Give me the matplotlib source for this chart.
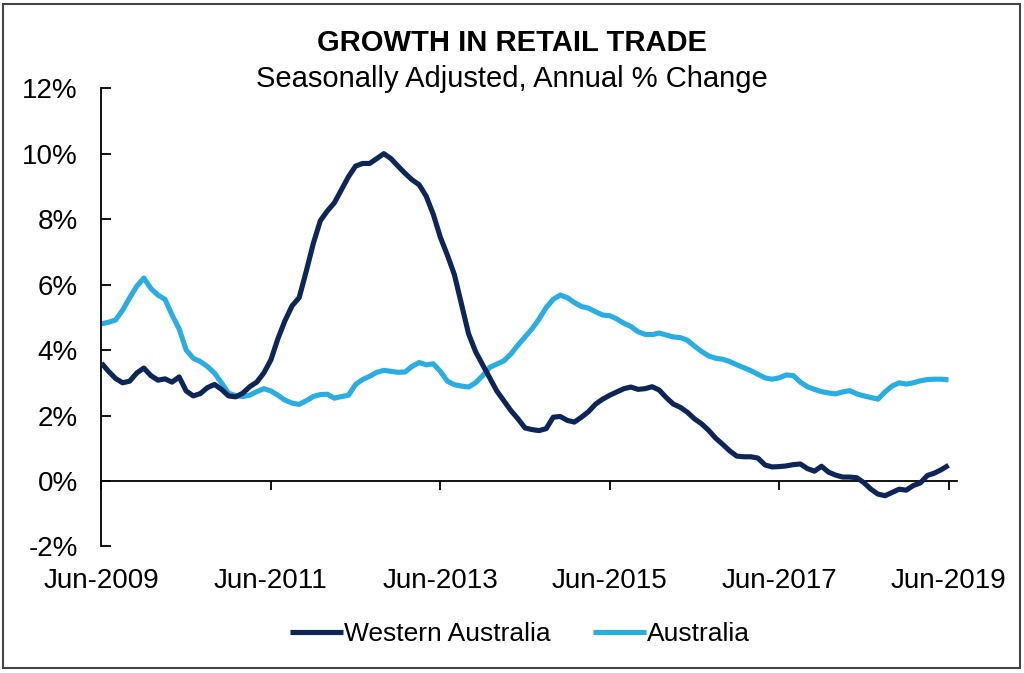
import matplotlib
matplotlib.use("Agg")
import matplotlib.pyplot as plt
from matplotlib.patches import Rectangle
from matplotlib.ticker import FuncFormatter

plt.rcParams["font.family"] = ["Liberation Sans", "DejaVu Sans"]

# ================== DATA ==================
# monthly, Jun-2009 .. Jun-2019 (121 points), annual % change
WA = [
    3.60, 3.35, 3.13, 3.00, 3.05, 3.30, 3.45, 3.22, 3.08, 3.12,
    3.02, 3.18, 2.75, 2.60, 2.67, 2.85, 2.95, 2.80, 2.60, 2.57,
    2.68, 2.88, 3.02, 3.30, 3.70, 4.35, 4.90, 5.35, 5.60, 6.40,
    7.25, 7.95, 8.25, 8.50, 8.90, 9.30, 9.62, 9.70, 9.70, 9.85,
    10.00, 9.85, 9.62, 9.40, 9.20, 9.05, 8.70, 8.15, 7.45, 6.90,
    6.30, 5.40, 4.50, 3.95, 3.55, 3.15, 2.75, 2.45, 2.15, 1.90,
    1.62, 1.57, 1.54, 1.60, 1.95, 1.97, 1.85, 1.80, 1.95, 2.12,
    2.35, 2.50, 2.62, 2.72, 2.82, 2.87, 2.80, 2.82, 2.88, 2.78,
    2.55, 2.35, 2.25, 2.10, 1.90, 1.75, 1.55, 1.31, 1.12, 0.92,
    0.76, 0.74, 0.74, 0.70, 0.49, 0.43, 0.44, 0.46, 0.50, 0.52,
    0.38, 0.30, 0.45, 0.27, 0.18, 0.12, 0.12, 0.10, -0.05, -0.25,
    -0.40, -0.45, -0.35, -0.25, -0.28, -0.14, -0.06, 0.17, 0.24, 0.35,
    0.48,
]
AUS = [
    4.80, 4.85, 4.92, 5.22, 5.60, 5.95, 6.20, 5.88, 5.68, 5.55,
    5.07, 4.65, 4.00, 3.75, 3.65, 3.50, 3.30, 3.00, 2.68, 2.61,
    2.58, 2.62, 2.73, 2.82, 2.75, 2.62, 2.47, 2.38, 2.34, 2.45,
    2.58, 2.64, 2.65, 2.53, 2.58, 2.62, 2.95, 3.10, 3.20, 3.32,
    3.38, 3.35, 3.32, 3.33, 3.50, 3.62, 3.55, 3.58, 3.35, 3.05,
    2.94, 2.90, 2.87, 3.00, 3.22, 3.47, 3.57, 3.67, 3.88, 4.15,
    4.40, 4.65, 4.95, 5.30, 5.55, 5.68, 5.60, 5.45, 5.33, 5.28,
    5.17, 5.07, 5.05, 4.95, 4.82, 4.72, 4.56, 4.48, 4.47, 4.52,
    4.46, 4.40, 4.38, 4.30, 4.12, 3.96, 3.82, 3.75, 3.72, 3.65,
    3.55, 3.46, 3.37, 3.26, 3.15, 3.11, 3.15, 3.24, 3.22, 3.02,
    2.88, 2.80, 2.73, 2.69, 2.66, 2.72, 2.76, 2.66, 2.60, 2.55,
    2.50, 2.72, 2.90, 3.00, 2.96, 3.00, 3.06, 3.10, 3.11, 3.11,
    3.09,
]
TICK_POS = [0, 24, 48, 72, 96, 120]
TICK_LABELS = ["Jun-2009", "Jun-2011", "Jun-2013", "Jun-2015", "Jun-2017", "Jun-2019"]
Y_TICKS = [-2, 0, 2, 4, 6, 8, 10, 12]

DARK = "#0e2557"
LIGHT = "#29aee3"

months = list(range(len(WA)))

fig = plt.figure(figsize=(10.24, 6.73), dpi=100)
ax = fig.add_axes([0.0991, 0.188, 0.8355, 0.681])

ax.plot(months, WA, color=DARK, lw=3.7, label="Western Australia",
        solid_joinstyle="round", solid_capstyle="butt", zorder=3)
ax.plot(months, AUS, color=LIGHT, lw=3.7, label="Australia",
        solid_joinstyle="round", solid_capstyle="butt", zorder=2)

ax.set_xlim(0, 121.2)
ax.set_ylim(-2, 12)

# spines: left axis and x-axis at zero
for s in ["top", "right"]:
    ax.spines[s].set_visible(False)
ax.spines["bottom"].set_position(("data", 0))
ax.spines["left"].set_linewidth(1.3)
ax.spines["bottom"].set_linewidth(1.3)

ax.set_yticks(Y_TICKS)
ax.yaxis.set_major_formatter(FuncFormatter(lambda v, p: f"{int(v)}%"))
ax.tick_params(axis="y", direction="in", length=7, width=1.3,
               labelsize=20, pad=17)

ax.set_xticks(TICK_POS)
ax.set_xticklabels(TICK_LABELS)
ax.tick_params(axis="x", direction="out", length=6.5, width=1.3,
               labelsize=20, pad=56)

# titles
fig.text(0.5, 0.924, "GROWTH IN RETAIL TRADE", ha="center", va="baseline",
         fontsize=21, fontweight="bold")
fig.text(0.5, 0.871, "Seasonally Adjusted, Annual % Change", ha="center",
         va="baseline", fontsize=21)

fig.legend(loc="center", bbox_to_anchor=(0.508, 0.058), ncol=2, frameon=False,
           fontsize=19, handlelength=2.0, handletextpad=0.05, columnspacing=1.6)

# outer frame
fig.patches.append(Rectangle((0.003, 0.007), 0.993, 0.987, transform=fig.transFigure,
                             fill=False, edgecolor="#444444", lw=1.5))

fig.savefig("out.png", dpi=100)
